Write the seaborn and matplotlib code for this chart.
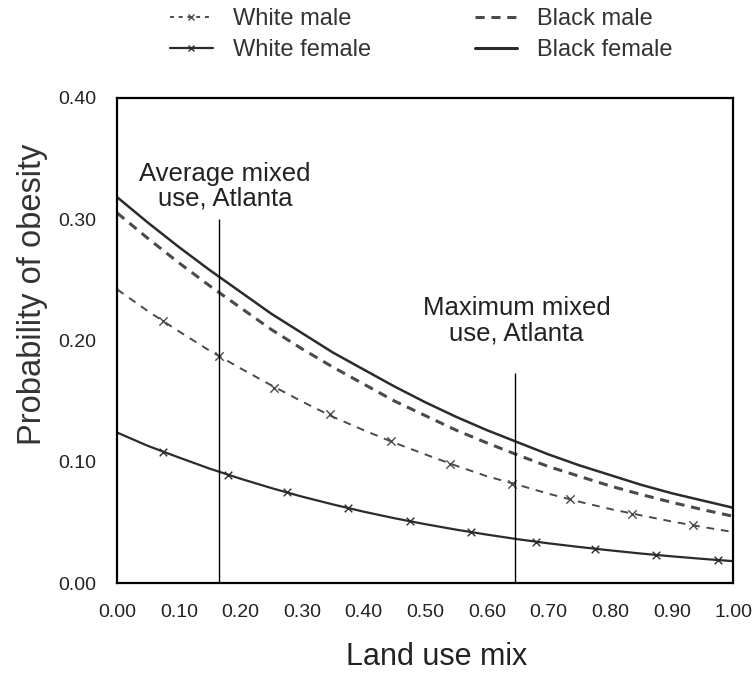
import numpy as np
import pandas as pd
import matplotlib
matplotlib.use("Agg")
import matplotlib.pyplot as plt
from matplotlib.lines import Line2D
import seaborn as sns

# values
land_use = [0.0, 0.05, 0.1, 0.15, 0.2, 0.25, 0.3, 0.35, 0.4, 0.45, 0.5,
            0.55, 0.6, 0.65, 0.7, 0.75, 0.8, 0.85, 0.9, 0.95, 1.0]
black_female = [0.318, 0.297, 0.277, 0.258, 0.240, 0.222, 0.206, 0.190, 0.176, 0.162, 0.149,
                0.137, 0.126, 0.116, 0.106, 0.097, 0.089, 0.081, 0.074, 0.068, 0.062]
black_male = [0.305, 0.284, 0.264, 0.245, 0.227, 0.209, 0.193, 0.178, 0.164, 0.150, 0.138,
              0.126, 0.1155, 0.1055, 0.096, 0.088, 0.080, 0.073, 0.0665, 0.0605, 0.055]
white_male = [0.242, 0.224, 0.2075, 0.1915, 0.177, 0.163, 0.1496, 0.137, 0.126, 0.1156, 0.106,
              0.0967, 0.088, 0.081, 0.0736, 0.067, 0.061, 0.0558, 0.0507, 0.0462, 0.042]
white_female = [0.124, 0.113, 0.1035, 0.0943, 0.086, 0.0783, 0.0712, 0.0648, 0.0588, 0.0534, 0.0485,
                0.044, 0.0399, 0.0361, 0.0327, 0.0297, 0.0269, 0.0243, 0.022, 0.0199, 0.018]

# marker points along the white series
wm_mark_x = [0.075, 0.165, 0.255, 0.345, 0.445, 0.54, 0.64, 0.735, 0.835, 0.935]
wm_mark_y = [0.216, 0.187, 0.161, 0.139, 0.117, 0.0985, 0.082, 0.069, 0.057, 0.0475]
wf_mark_x = [0.075, 0.18, 0.275, 0.375, 0.475, 0.575, 0.68, 0.775, 0.875, 0.975]
wf_mark_y = [0.108, 0.089, 0.0747, 0.0617, 0.0509, 0.0419, 0.0341, 0.0282, 0.0231, 0.0189]

# reference lines (Atlanta)
avg_mix = 0.165
avg_top = 0.30
max_mix = 0.645
max_top = 0.173

sns.set_style("white")
plt.rcParams['font.family'] = ['Liberation Sans', 'DejaVu Sans']

fig, ax = plt.subplots(figsize=(7.56, 6.74), dpi=100)
fig.subplots_adjust(left=0.155, right=0.970, bottom=0.135, top=0.855)

dark = "#2b2b2b"
grey = "#4a4a4a"

sns.lineplot(x=land_use, y=black_female, color=dark, linewidth=1.8, ax=ax)
sns.lineplot(x=land_use, y=black_male, color=grey, linewidth=2.2, linestyle=(0, (3, 2.2)), ax=ax)
sns.lineplot(x=land_use, y=white_male, color=grey, linewidth=1.4, linestyle=(0, (4, 3.5)), ax=ax)
sns.lineplot(x=land_use, y=white_female, color=dark, linewidth=1.6, ax=ax)
sns.scatterplot(x=wm_mark_x, y=wm_mark_y, marker="x", s=36, color=grey, linewidth=1.0, ax=ax)
sns.scatterplot(x=wf_mark_x, y=wf_mark_y, marker="x", s=30, color=dark, linewidth=1.0, ax=ax)

ax.vlines([avg_mix, max_mix], 0, [avg_top, max_top], color="black", linewidth=1.0)

ax.text(0.175, 0.327, "Average mixed\nuse, Atlanta", ha="center", va="center",
        fontsize=18.5, color="#222222", linespacing=1.05)
ax.text(0.648, 0.216, "Maximum mixed\nuse, Atlanta", ha="center", va="center",
        fontsize=18.5, color="#222222", linespacing=1.05)

ax.set_xlim(0, 1.0)
ax.set_ylim(0, 0.40)
ax.set_xticks(np.arange(0, 1.01, 0.1))
ax.set_yticks([0.0, 0.1, 0.2, 0.3, 0.4])
ax.set_xticklabels([f"{v:.2f}" for v in np.arange(0, 1.01, 0.1)])
ax.set_yticklabels([f"{v:.2f}" for v in [0.0, 0.1, 0.2, 0.3, 0.4]])
ax.tick_params(direction="out", length=8, width=1.5, labelsize=14, colors="black",
               labelcolor="#222222", pad=7)
for s in ax.spines.values():
    s.set_linewidth(1.6)
    s.set_color("black")

ax.set_xlabel("Land use mix", fontsize=22, color="#222222")
ax.set_ylabel("Probability of obesity", fontsize=23.5, color="#333333")
ax.xaxis.set_label_coords(0.518, -0.121)
ax.yaxis.set_label_coords(-0.113, 0.594)

handles = [
    Line2D([], [], color=grey, linewidth=1.4, linestyle=(0, (2, 2.5)), marker="x", markersize=5),
    Line2D([], [], color=dark, linewidth=1.6, marker="x", markersize=5),
    Line2D([], [], color=grey, linewidth=2.2, linestyle=(0, (3, 2.2))),
    Line2D([], [], color=dark, linewidth=2.2),
]
labels = ["White male", "White female", "Black male", "Black female"]
fig.legend(handles, labels, loc="upper left", bbox_to_anchor=(170 / 756, 1 - 8 / 674), ncol=2,
           frameon=False, fontsize=17, handlelength=1.8, handletextpad=0.85, columnspacing=4.4,
           labelspacing=0.4, borderpad=0, borderaxespad=0, labelcolor="#333333")

fig.savefig("out.png", dpi=100)
